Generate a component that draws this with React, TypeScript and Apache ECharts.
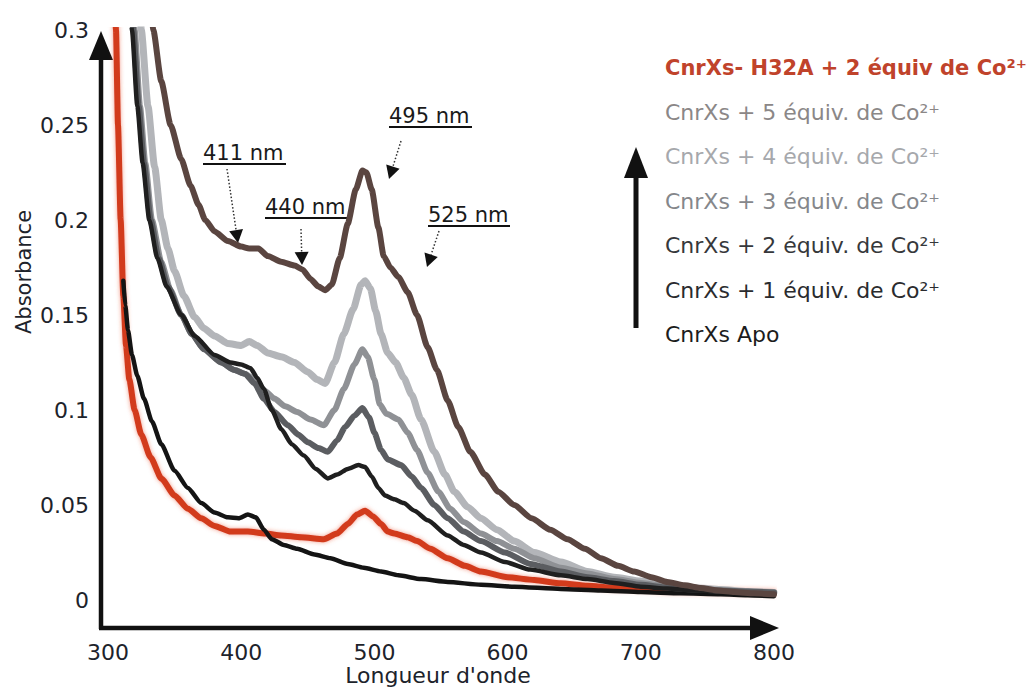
import React, { useEffect, useRef } from "react";
import * as echarts from "echarts";

const FONT = '"DejaVu Sans", "Liberation Sans", sans-serif';

// Axis ticks
const wavelengthTicks = [300, 400, 500, 600, 700, 800];
const absorbanceTicks = [0, 0.05, 0.1, 0.15, 0.2, 0.25, 0.3];

// Series names (legend order)
const seriesNames = [
  "CnrXs- H32A + 2 équiv de Co²⁺",
  "CnrXs + 5 équiv. de Co²⁺",
  "CnrXs + 4 équiv. de Co²⁺",
  "CnrXs + 3 équiv. de Co²⁺",
  "CnrXs + 2 équiv. de Co²⁺",
  "CnrXs + 1 équiv. de Co²⁺",
  "CnrXs Apo",
];

const peakLabels = ["411 nm", "440 nm", "495 nm", "525 nm"];

// [wavelength (nm), absorbance]
const h32a2eq = [
  [304, 0.36], [306, 0.3], [307.5, 0.25], [309.5, 0.2], [311.5, 0.16], [313.5, 0.134], [316, 0.116],
  [320, 0.1], [325, 0.087], [332, 0.075], [340, 0.064], [350, 0.055], [360, 0.048], [370, 0.043],
  [380, 0.039], [392, 0.036], [405, 0.036], [418, 0.035], [430, 0.034], [445, 0.033], [462, 0.032],
  [472, 0.035], [480, 0.04], [487, 0.045], [493, 0.047], [499, 0.044], [505, 0.04], [510, 0.036],
  [515, 0.035], [525, 0.033], [532, 0.031], [542, 0.027], [555, 0.022], [568, 0.018], [580, 0.015],
  [600, 0.012], [620, 0.0105], [640, 0.0088], [660, 0.0075], [680, 0.0065], [700, 0.006], [720, 0.005],
  [740, 0.0048], [760, 0.0045], [780, 0.0042], [800, 0.004],
];

const eq5 = [
  [328, 0.36], [331, 0.33], [334, 0.3], [340, 0.273], [347, 0.25], [355, 0.232], [362, 0.218],
  [368, 0.208], [373, 0.2], [380, 0.194], [390, 0.189], [400, 0.186], [406, 0.185], [413, 0.185],
  [420, 0.181], [430, 0.178], [440, 0.176], [446, 0.174], [452, 0.169], [458, 0.165], [463, 0.163],
  [468, 0.166], [474, 0.18], [480, 0.198], [486, 0.216], [491, 0.226], [494, 0.225], [498, 0.216],
  [503, 0.196], [507, 0.181], [512, 0.175], [518, 0.17], [525, 0.162], [532, 0.15], [540, 0.133],
  [547, 0.121], [555, 0.105], [563, 0.091], [572, 0.078], [583, 0.066], [593, 0.057], [605, 0.05],
  [618, 0.043], [632, 0.037], [645, 0.032], [658, 0.027], [670, 0.022], [683, 0.018], [695, 0.015],
  [708, 0.012], [720, 0.0095], [733, 0.0078], [745, 0.0063], [758, 0.005], [770, 0.0042],
  [785, 0.0035], [800, 0.003],
];

const eq4 = [
  [322, 0.36], [325, 0.3], [330, 0.26], [335, 0.228], [340, 0.2], [345, 0.185], [350, 0.173],
  [357, 0.16], [365, 0.149], [372, 0.143], [380, 0.139], [390, 0.135], [400, 0.134], [406, 0.136],
  [412, 0.134], [420, 0.13], [430, 0.128], [440, 0.125], [450, 0.12], [457, 0.116], [463, 0.114],
  [470, 0.125], [477, 0.14], [484, 0.153], [490, 0.166], [493, 0.168], [497, 0.164], [501, 0.152],
  [505, 0.14], [510, 0.13], [516, 0.125], [522, 0.117], [528, 0.108], [535, 0.095], [545, 0.078],
  [553, 0.066], [560, 0.057], [570, 0.049], [580, 0.043], [592, 0.037], [605, 0.031], [620, 0.025],
  [640, 0.02], [660, 0.015], [680, 0.012], [700, 0.01], [720, 0.008], [740, 0.0065], [760, 0.0055],
  [780, 0.0045], [800, 0.004],
];

const eq3 = [
  [317, 0.36], [320, 0.3], [324, 0.26], [328, 0.23], [333, 0.2], [340, 0.178], [347, 0.163],
  [355, 0.15], [363, 0.14], [372, 0.132], [385, 0.125], [395, 0.121], [403, 0.119], [410, 0.116],
  [418, 0.11], [425, 0.106], [433, 0.102], [442, 0.099], [452, 0.095], [462, 0.092], [470, 0.1],
  [477, 0.111], [485, 0.124], [491, 0.132], [495, 0.128], [500, 0.116], [504, 0.103], [509, 0.098],
  [518, 0.095], [525, 0.088], [532, 0.079], [540, 0.067], [548, 0.057], [557, 0.048], [567, 0.041],
  [580, 0.035], [592, 0.031], [605, 0.027], [620, 0.022], [640, 0.017], [660, 0.014], [680, 0.011],
  [700, 0.009], [720, 0.007], [740, 0.006], [760, 0.005], [780, 0.0045], [800, 0.004],
];

const eq2 = [
  [316, 0.36], [319, 0.3], [323, 0.26], [327, 0.23], [332, 0.2], [338, 0.18], [345, 0.165],
  [355, 0.15], [363, 0.14], [372, 0.132], [385, 0.125], [395, 0.121], [403, 0.119], [410, 0.114],
  [417, 0.106], [425, 0.099], [435, 0.092], [443, 0.087], [450, 0.083], [458, 0.08], [465, 0.078],
  [472, 0.084], [478, 0.091], [485, 0.097], [491, 0.101], [496, 0.096], [500, 0.088], [505, 0.079],
  [510, 0.074], [520, 0.071], [528, 0.065], [535, 0.059], [545, 0.05], [555, 0.043], [567, 0.036],
  [580, 0.031], [598, 0.025], [617, 0.019], [640, 0.015], [660, 0.012], [680, 0.01], [700, 0.008],
  [720, 0.0065], [740, 0.0055], [760, 0.005], [780, 0.0045], [800, 0.004],
];

const eq1 = [
  [315, 0.36], [318, 0.3], [322, 0.26], [326, 0.23], [331, 0.2], [337, 0.18], [344, 0.165],
  [355, 0.15], [365, 0.139], [380, 0.129], [392, 0.125], [400, 0.124], [407, 0.122], [412, 0.117],
  [417, 0.111], [423, 0.1], [430, 0.09], [438, 0.082], [447, 0.076], [456, 0.069], [465, 0.064],
  [472, 0.066], [480, 0.069], [488, 0.071], [493, 0.07], [498, 0.065], [503, 0.059], [508, 0.055],
  [515, 0.053], [522, 0.051], [530, 0.047], [540, 0.042], [555, 0.034], [567, 0.029], [580, 0.025],
  [598, 0.02], [617, 0.016], [640, 0.013], [660, 0.011], [680, 0.009], [700, 0.007], [720, 0.006],
  [740, 0.005], [760, 0.0045], [780, 0.0035], [800, 0.003],
];

const apo = [
  [311.5, 0.168], [313, 0.155], [315, 0.142], [318, 0.129], [322, 0.118], [327, 0.106], [333, 0.094],
  [340, 0.082], [350, 0.068], [360, 0.059], [370, 0.051], [380, 0.046], [390, 0.0435], [398, 0.043],
  [405, 0.045], [411, 0.0435], [417, 0.037], [423, 0.032], [432, 0.029], [442, 0.027], [455, 0.024],
  [467, 0.022], [480, 0.019], [492, 0.017], [505, 0.015], [518, 0.013], [535, 0.011], [555, 0.0095],
  [580, 0.008], [605, 0.007], [640, 0.0058], [670, 0.005], [700, 0.0042], [730, 0.0035], [760, 0.003],
  [780, 0.0025], [800, 0.002],
];

const lineColors = ["#d23a1f", "#5a4540", "#b3b5b9", "#8f9195", "#5b5d61", "#1f1f1f", "#141414"];
const legendColors = ["#c0432b", "#8b8787", "#a6a8ac", "#85878b", "#36383b", "#2a2b2e", "#1c1c1c"];

function arrowGeom(sx: number, sy: number, tx: number, ty: number, len: number, half: number) {
  const dx = tx - sx;
  const dy = ty - sy;
  const L = Math.hypot(dx, dy);
  const ux = dx / L;
  const uy = dy / L;
  const bx = tx - ux * len;
  const by = ty - uy * len;
  const nx = -uy;
  const ny = ux;
  return {
    base: [bx, by],
    points: [
      [tx, ty],
      [bx + nx * half, by + ny * half],
      [bx - nx * half, by - ny * half],
    ],
  };
}

export default function App() {
  const ref = useRef<HTMLDivElement>(null);

  useEffect(() => {
    if (!ref.current) return;
    const chart = echarts.init(ref.current, undefined, { renderer: "svg" });

    const mk = (idx: number, data: number[][], width: number, extra: any = {}) => ({
      name: seriesNames[idx],
      type: "line",
      data,
      showSymbol: false,
      symbol: "none",
      smooth: 0.2,
      smoothMonotone: "x",
      lineStyle: { color: lineColors[idx], width, cap: "round", join: "round", ...extra },
      itemStyle: { color: lineColors[idx] },
      z: 2,
    });

    // annotation geometry (pixels)
    const annots = [
      { label: peakLabels[0], x: 203, y: 153, w: 83, s: [227, 169], t: [238, 243] },
      { label: peakLabels[1], x: 265, y: 207, w: 83, s: [301, 229], t: [302, 265] },
      { label: peakLabels[2], x: 389, y: 116, w: 83, s: [401, 141], t: [389, 179] },
      { label: peakLabels[3], x: 428, y: 215, w: 82, s: [439, 231], t: [427, 267] },
    ];
    const annGraphics: any[] = [];
    annots.forEach((a) => {
      annGraphics.push({
        type: "text",
        x: a.x,
        y: a.y,
        style: {
          text: a.label,
          font: `21px ${FONT}`,
          fill: "#1a1a1a",
          textAlign: "left",
          textVerticalAlign: "middle",
        },
      });
      annGraphics.push({
        type: "line",
        shape: { x1: a.x, y1: a.y + 11, x2: a.x + a.w, y2: a.y + 11 },
        style: { stroke: "#111", lineWidth: 2 },
      });
      const g = arrowGeom(a.s[0], a.s[1], a.t[0], a.t[1], 13, 7);
      annGraphics.push({
        type: "line",
        shape: { x1: a.s[0], y1: a.s[1], x2: g.base[0], y2: g.base[1] },
        style: { stroke: "#333", lineWidth: 1.5, lineDash: [1.5, 2] },
      });
      annGraphics.push({
        type: "polygon",
        shape: { points: g.points },
        style: { fill: "#111" },
      });
    });

    const option: any = {
      animation: false,
      backgroundColor: "#ffffff",
      textStyle: { fontFamily: FONT },
      grid: { left: 108, right: 259, top: 30, bottom: 90, containLabel: false },
      xAxis: {
        type: "value",
        min: wavelengthTicks[0],
        max: wavelengthTicks[wavelengthTicks.length - 1],
        interval: wavelengthTicks[1] - wavelengthTicks[0],
        axisLine: { show: false },
        axisTick: { show: false },
        splitLine: { show: false },
        axisLabel: { fontSize: 22, color: "#1d232b", margin: 41, fontFamily: FONT },
      },
      yAxis: {
        type: "value",
        min: absorbanceTicks[0],
        max: absorbanceTicks[absorbanceTicks.length - 1],
        interval: absorbanceTicks[1] - absorbanceTicks[0],
        axisLine: { show: false },
        axisTick: { show: false },
        splitLine: { show: false },
        axisLabel: {
          fontSize: 22,
          color: "#1d232b",
          margin: 19,
          fontFamily: FONT,
          formatter: (v: number) => String(Number(v.toFixed(2))),
        },
      },
      legend: {
        orient: "vertical",
        left: 660,
        top: 57,
        padding: 0,
        itemGap: 22.4,
        icon: "none",
        itemWidth: 0,
        itemHeight: 22,
        selectedMode: false,
        itemStyle: { opacity: 0 },
        lineStyle: { opacity: 0 },
        textStyle: { fontFamily: FONT, fontSize: 22, lineHeight: 22 },
        data: seriesNames.map((n, i) => ({
          name: n,
          textStyle:
            i === 0
              ? { color: legendColors[i], fontWeight: "bold", fontSize: 21 }
              : { color: legendColors[i] },
        })),
      },
      series: [
        mk(0, h32a2eq, 6, { shadowBlur: 4, shadowColor: "rgba(230,70,40,0.55)" }),
        mk(6, apo, 4.5),
        mk(2, eq4, 7),
        mk(3, eq3, 6),
        mk(4, eq2, 6),
        mk(5, eq1, 4.5),
        mk(1, eq5, 6),
      ],
      graphic: [
        // y axis with arrow
        { type: "line", shape: { x1: 101, y1: 629, x2: 101, y2: 56 }, style: { stroke: "#111", lineWidth: 4.5 } },
        { type: "polygon", shape: { points: [[101, 31], [89, 60], [113, 60]] }, style: { fill: "#111" } },
        // x axis with arrow
        { type: "line", shape: { x1: 99, y1: 628, x2: 752, y2: 628 }, style: { stroke: "#111", lineWidth: 4.5 } },
        { type: "polygon", shape: { points: [[779, 628], [750, 616], [750, 640]] }, style: { fill: "#111" } },
        // axis names
        {
          type: "text",
          x: 24,
          y: 272,
          rotation: Math.PI / 2,
          style: {
            text: "Absorbance",
            font: `21px ${FONT}`,
            fill: "#1d232b",
            textAlign: "center",
            textVerticalAlign: "middle",
          },
        },
        {
          type: "text",
          x: 438,
          y: 675,
          style: {
            text: "Longueur d'onde",
            font: `22px ${FONT}`,
            fill: "#1d232b",
            textAlign: "center",
            textVerticalAlign: "middle",
          },
        },
        // legend arrow
        { type: "line", shape: { x1: 636, y1: 328, x2: 636, y2: 172 }, style: { stroke: "#111", lineWidth: 5 } },
        { type: "polygon", shape: { points: [[636, 147], [624, 178], [648, 178]] }, style: { fill: "#111" } },
        ...annGraphics,
      ],
    };

    chart.setOption(option);
    return () => chart.dispose();
  }, []);

  return (
    <div
      ref={ref}
      style={{ position: "fixed", left: 0, top: 0, width: 1033, height: 690, background: "#fff" }}
    />
  );
}
